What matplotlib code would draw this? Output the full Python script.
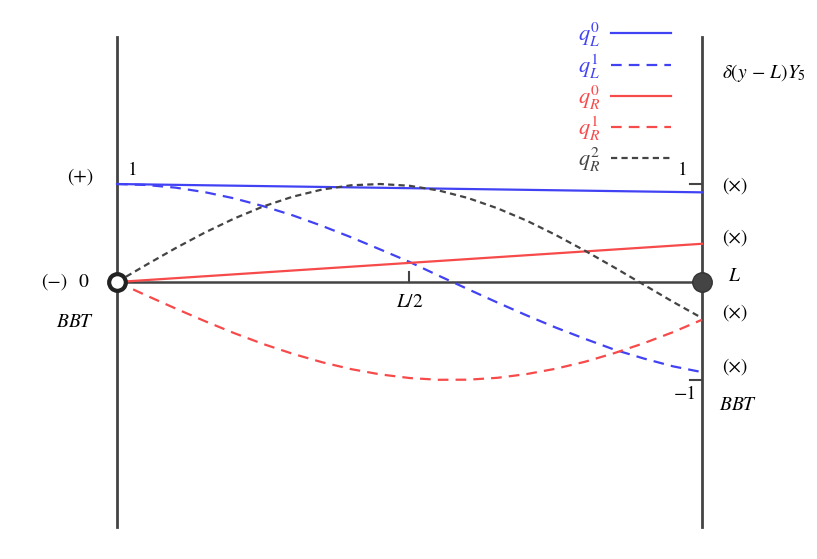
import numpy as np
import matplotlib
matplotlib.use("Agg")
import matplotlib.pyplot as plt

plt.rcParams['mathtext.fontset'] = 'stix'
plt.rcParams['font.family'] = ['STIXGeneral', 'DejaVu Serif']

# positions along the channel (units of L)
x_pts = [0.00, 0.05, 0.10, 0.15, 0.20, 0.25, 0.30, 0.35, 0.40, 0.45, 0.50,
         0.55, 0.60, 0.65, 0.70, 0.75, 0.80, 0.85, 0.90, 0.95, 1.00]

# mode profiles
qL0_x = [0.0, 1.0]
qL0 = [1.00, 0.915]
qR0_x = [0.0, 1.0]
qR0 = [0.00, 0.39]
qL1 = [1.00, 0.99, 0.963, 0.917, 0.854, 0.774, 0.681, 0.574, 0.457, 0.332, 0.205,
       0.064, -0.073, -0.209, -0.340, -0.465, -0.580, -0.690, -0.780, -0.860, -0.920]
qR1 = [0.00, -0.137, -0.270, -0.399, -0.521, -0.633, -0.732, -0.818, -0.889, -0.943, -0.980,
       -0.998, -0.997, -0.978, -0.940, -0.885, -0.814, -0.726, -0.626, -0.513, -0.385]
qR2 = [0.00, 0.175, 0.345, 0.504, 0.647, 0.771, 0.870, 0.943, 0.987, 1.000, 0.982,
       0.934, 0.857, 0.753, 0.627, 0.480, 0.319, 0.149, -0.026, -0.201, -0.368]

right_marks = [0.98, 0.45, -0.32, -0.87]

BLUE = '#4242f5'
RED = '#f74a4a'
GREY = '#444444'


def main():
    fig = plt.figure(figsize=(8.17, 5.59), dpi=100)
    ax = fig.add_axes([0, 0, 1, 1])
    ax.set_xlim(-0.2, 1.1966)
    ax.set_ylim(-2.827, 2.878)
    ax.axis('off')

    # frame: two walls and the channel axis
    ax.plot([0, 0], [-2.5, 2.5], color=GREY, lw=2.0, zorder=1)
    ax.plot([1, 1], [-2.5, 2.5], color=GREY, lw=2.0, zorder=1)
    ax.plot([0, 1], [0, 0], color=GREY, lw=1.8, zorder=1)
    ax.plot([0.5, 0.5], [0, 0.1], color=GREY, lw=1.5, zorder=1)
    ax.plot([0.98, 1.0], [1, 1], color=GREY, lw=1.5, zorder=1)
    ax.plot([0.98, 1.0], [-1, -1], color=GREY, lw=1.5, zorder=1)

    # modes
    l1, = ax.plot(qL0_x, qL0, color=BLUE, lw=1.6, label=r'$q_L^0$', zorder=3)
    l2, = ax.plot(x_pts, qL1, color=BLUE, lw=1.6, dashes=(4.8, 3.2), label=r'$q_L^1$', zorder=3)
    l3, = ax.plot(qR0_x, qR0, color=RED, lw=1.6, label=r'$q_R^0$', zorder=3)
    l4, = ax.plot(x_pts, qR1, color=RED, lw=1.6, dashes=(4.8, 3.2), label=r'$q_R^1$', zorder=3)
    l5, = ax.plot(x_pts, qR2, color=GREY, lw=1.6, dashes=(2.8, 1.9), label=r'$q_R^2$', zorder=3)

    # end points
    ax.plot(0, 0, 'o', ms=12, mfc='white', mec='#222222', mew=3, zorder=5)
    ax.plot(1, 0, 'o', ms=14, mfc=GREY, mec='#333333', mew=1, zorder=5)

    ax.legend(handles=[l1, l2, l3, l4, l5], loc='upper left',
              bbox_to_anchor=(0.688, 0.99), frameon=False, markerfirst=False,
              handlelength=2.7, handletextpad=0.5, labelspacing=0.13,
              borderpad=0.2, fontsize=16, labelcolor='linecolor')

    fs = 14
    ax.text(0.027, 1.14, '1', fontsize=fs, ha='center', va='center')
    ax.text(0.967, 1.14, '1', fontsize=fs, ha='center', va='center')
    ax.text(-0.063, 1.07, '(+)', fontsize=fs, ha='center', va='center')
    ax.text(-0.107, 0.0, '(−)', fontsize=fs, ha='center', va='center')
    ax.text(-0.058, 0.0, '0', fontsize=fs, ha='center', va='center')
    ax.text(-0.072, -0.41, r'$BBT$', fontsize=fs, ha='center', va='center')
    ax.text(0.5, -0.205, r'$L/2$', fontsize=fs, ha='center', va='center')
    for ym in right_marks:
        ax.text(1.056, ym, '(×)', fontsize=fs, ha='center', va='center')
    ax.text(1.056, 0.06, r'$L$', fontsize=fs, ha='center', va='center')
    ax.text(0.971, -1.15, '−1', fontsize=fs, ha='center', va='center')
    ax.text(1.062, -1.255, r'$BBT$', fontsize=fs, ha='center', va='center')
    ax.text(1.035, 2.13, r'$\delta(y\,-\,L)Y_5$', fontsize=fs, ha='left', va='center')

    fig.savefig('out.png', dpi=100)


if __name__ == "__main__":
    main()
